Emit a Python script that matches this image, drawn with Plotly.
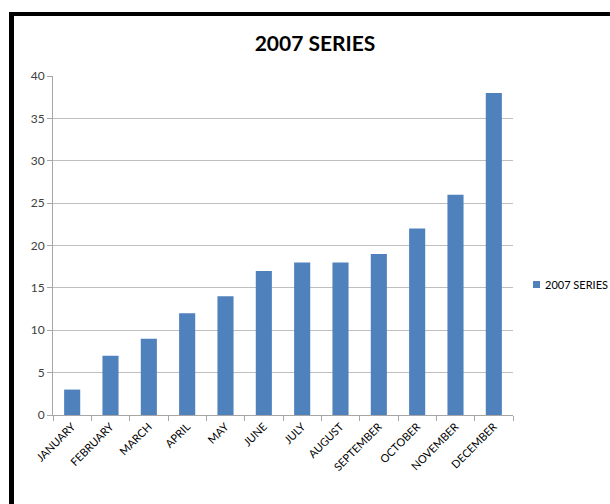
import plotly.graph_objects as go

months = ["JANUARY", "FEBRUARY", "MARCH", "APRIL", "MAY", "JUNE", "JULY",
          "AUGUST", "SEPTEMBER", "OCTOBER", "NOVEMBER", "DECEMBER"]
values = [3, 7, 9, 12, 14, 17, 18, 18, 19, 22, 26, 38]
series_name = "2007 SERIES"
y_ticks = [0, 5, 10, 15, 20, 25, 30, 35, 40]
bar_color = "#4f81bd"

W, H = 610, 504
L, R, T, B = 53, 97, 76, 89
pw, ph = W - L - R, H - T - B

def px(x):
    return (x - L) / pw

def py(y):
    return (H - B - y) / ph

fig = go.Figure()
fig.add_trace(go.Bar(x=months, y=values, name=series_name,
                     marker=dict(color=bar_color, line=dict(width=0))))

fig.update_layout(
    width=W, height=H,
    margin=dict(l=L, r=R, t=T, b=B, autoexpand=False),
    paper_bgcolor="white", plot_bgcolor="white",
    font=dict(family="Lato, Open Sans, sans-serif", color="#404040"),
    title=dict(text="<b>2007 SERIES</b>", x=(315) / W, xanchor="center",
               y=1 - 44 / H, yanchor="middle",
               font=dict(size=21, color="#000000", family="Lato, Open Sans, sans-serif")),
    bargap=0.58,
    showlegend=False,
    xaxis=dict(type="category", tickangle=-45, tickfont=dict(size=11, color="#000000"),
               showline=True, linecolor="#a6a6a6", linewidth=1,
               ticks="outside", tickson="boundaries", ticklen=5, tickcolor="#a6a6a6",
               showgrid=False),
    yaxis=dict(range=[0, 40], tickvals=y_ticks, tickfont=dict(size=12, color="#404040"),
               showline=True, linecolor="#a6a6a6", linewidth=1,
               ticks="outside", ticklen=5, tickcolor="#a6a6a6",
               showgrid=True, gridcolor="#bfbfbf", gridwidth=1, zeroline=False),
    shapes=[
        dict(type="rect", xref="paper", yref="paper",
             x0=px(9), x1=px(612), y0=py(16), y1=py(12),
             fillcolor="black", line=dict(width=0), layer="above"),
        dict(type="rect", xref="paper", yref="paper",
             x0=px(9), x1=px(14), y0=py(506), y1=py(12),
             fillcolor="black", line=dict(width=0), layer="above"),
        # legend key
        dict(type="rect", xref="paper", yref="paper",
             x0=px(533), x1=px(540), y0=py(288), y1=py(281),
             fillcolor=bar_color, line=dict(width=0)),
    ],
    annotations=[
        dict(text=series_name, xref="paper", yref="paper",
             x=px(543), y=py(284.5), xanchor="left", yanchor="middle",
             showarrow=False, font=dict(size=11, color="#000000")),
    ],
)

fig.write_html("out.html")
